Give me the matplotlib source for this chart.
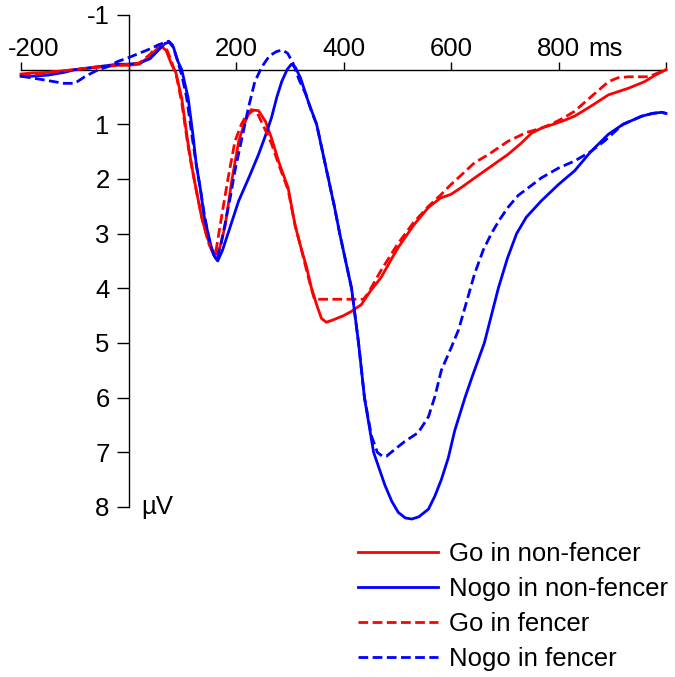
import matplotlib
matplotlib.use("Agg")
import matplotlib.pyplot as plt
import numpy as np

plt.rcParams['font.family'] = ['Liberation Sans', 'DejaVu Sans']

# time (ms) / amplitude (uV), positive down
t_go_nf = [-200, -180, -150, -120, -100, -80, -50, -20, 0, 20, 40, 55, 62, 70, 80, 88, 99, 110, 117, 126,
           136, 146, 155, 162, 170, 180, 192, 205, 215, 223, 232, 242, 255, 266, 280, 297, 310, 322, 331,
           340, 350, 359, 368, 380, 400, 415, 433, 450, 470, 490, 502, 530, 558, 580, 600, 620, 644, 670,
           706, 730, 750, 768, 790, 810, 830, 860, 893, 930, 960, 980, 1000]
v_go_nf = [0.08, 0.06, 0.05, 0.02, 0.0, -0.02, -0.05, -0.08, -0.08, -0.1, -0.25, -0.4, -0.42, -0.35, -0.1,
           0.05, 0.52, 1.3, 1.73, 2.2, 2.7, 3.05, 3.3, 3.38, 3.25, 2.85, 2.04, 1.31, 1.0, 0.82, 0.74, 0.75,
           0.95, 1.25, 1.7, 2.16, 2.85, 3.3, 3.6, 3.98, 4.3, 4.55, 4.62, 4.58, 4.5, 4.42, 4.3, 4.05, 3.8,
           3.45, 3.25, 2.85, 2.52, 2.35, 2.28, 2.15, 1.98, 1.8, 1.55, 1.35, 1.16, 1.07, 1.0, 0.93, 0.85,
           0.67, 0.46, 0.34, 0.22, 0.1, 0.0]

t_nogo_nf = [-200, -180, -150, -120, -100, -60, -20, 0, 20, 40, 55, 68, 76, 84, 92, 99, 111, 120, 126, 134,
             141, 154, 160, 166, 175, 190, 205, 225, 242, 255, 266, 276, 285, 295, 303, 310, 320, 335, 350,
             361, 372, 383, 393, 404, 415, 428, 439, 456, 477, 490, 502, 515, 527, 540, 558, 570,
             582, 595, 607, 626, 640, 662, 675, 688, 705, 722, 740, 768, 800, 830, 860, 893, 920, 955,
             975, 992, 1000]
v_nogo_nf = [0.12, 0.12, 0.1, 0.05, 0.0, -0.05, -0.1, -0.1, -0.12, -0.2, -0.35, -0.48, -0.5, -0.4, -0.15,
             0.0, 0.52, 1.2, 1.73, 2.2, 2.7, 3.25, 3.42, 3.5, 3.3, 2.85, 2.4, 1.95, 1.55, 1.2, 0.88, 0.5,
             0.22, 0.0, -0.1, -0.05, 0.15, 0.6, 1.0, 1.5, 2.0, 2.5, 3.0, 3.5, 4.0, 5.0, 6.0, 7.0, 7.6,
             7.9, 8.1, 8.2, 8.22, 8.18, 8.04, 7.8, 7.5, 7.1, 6.6, 6.0, 5.6, 5.0, 4.5, 4.0, 3.45, 3.0,
             2.7, 2.4, 2.1, 1.85, 1.5, 1.18, 1.0, 0.85, 0.8, 0.78, 0.8]

t_go_f = [-200, -180, -150, -120, -100, -60, -20, 0, 20, 40, 55, 63, 72, 80, 90, 99, 110, 120, 130, 140,
          150, 157, 163, 173, 185, 198, 210, 220, 229, 240, 252, 266, 280, 297, 310, 322, 332, 340, 346,
          360, 400, 437, 445, 470, 500, 530, 558, 580, 600, 620, 644, 670, 706, 740, 768, 790, 810, 830,
          860, 893, 910, 930, 967, 980, 1000]
v_go_f = [0.12, 0.1, 0.05, 0.02, 0.0, -0.05, -0.08, -0.1, -0.12, -0.28, -0.45, -0.47, -0.35, -0.15, 0.15,
          0.6, 1.35, 1.9, 2.4, 2.85, 3.2, 3.35, 3.3, 2.7, 2.0, 1.31, 1.0, 0.82, 0.73, 0.8, 1.05, 1.35, 1.75,
          2.2, 2.85, 3.3, 3.7, 4.0, 4.2, 4.2, 4.2, 4.2, 4.1, 3.67, 3.2, 2.8, 2.5, 2.3, 2.1, 1.92, 1.7,
          1.55, 1.31, 1.15, 1.07, 0.98, 0.88, 0.76, 0.5, 0.22, 0.15, 0.13, 0.13, 0.08, 0.0]

t_nogo_f = [-200, -180, -150, -120, -100, -80, -60, -40, -20, 0, 20, 40, 55, 68, 75, 82, 90, 99, 108, 118,
            126, 134, 141, 150, 158, 165, 172, 180, 190, 198, 210, 223, 235, 248, 262, 275, 286, 296, 306,
            318, 330, 340, 350, 361, 372, 383, 393, 404, 415, 428, 439, 452, 463, 472, 480, 495, 514, 539,
            558, 570, 582, 601, 614, 626, 644, 660, 675, 690, 706, 725, 744, 768, 800, 830, 860, 886, 920,
            955, 975, 992, 1000]
v_nogo_f = [0.12, 0.15, 0.2, 0.25, 0.25, 0.12, 0.02, -0.05, -0.15, -0.22, -0.3, -0.38, -0.45, -0.5, -0.52,
            -0.45, -0.2, 0.1, 0.5, 1.2, 1.73, 2.2, 2.65, 3.1, 3.38, 3.45, 3.2, 2.8, 2.3, 1.85, 1.3, 0.7,
            0.22, -0.05, -0.25, -0.33, -0.36, -0.3, -0.12, 0.2, 0.45, 0.75, 1.0, 1.5, 2.0, 2.5, 3.0,
            3.5, 4.0, 5.0, 6.0, 6.7, 7.0, 7.07, 7.07, 6.95, 6.8, 6.64, 6.35, 5.98, 5.5, 5.07, 4.76, 4.35,
            3.73, 3.3, 3.0, 2.75, 2.52, 2.3, 2.16, 1.98, 1.8, 1.67, 1.5, 1.3, 1.0, 0.85, 0.8, 0.78, 0.8]

labels = ['Go in non-fencer', 'Nogo in non-fencer', 'Go in fencer', 'Nogo in fencer']
x_ticks = [-200, 200, 400, 600, 800]
y_ticks = [-1, 1, 2, 3, 4, 5, 6, 7, 8]

fs = 18.5
red = '#ff0000'
blue = '#0000ff'

fig = plt.figure(figsize=(6.75, 6.77), dpi=100)
W, H = 675, 677
ax = fig.add_axes([21 / W, 1 - 507 / H, (666 - 21) / W, (507 - 15) / H])

lw = 2.0
dash = (0, (3.5, 1.6))
l1, = ax.plot(t_go_nf, v_go_nf, color=red, lw=lw, label=labels[0], clip_on=False)
l2, = ax.plot(t_nogo_nf, v_nogo_nf, color=blue, lw=lw, label=labels[1], clip_on=False)
l3, = ax.plot(t_go_f, v_go_f, color=red, lw=lw, ls=dash, label=labels[2], clip_on=False)
l4, = ax.plot(t_nogo_f, v_nogo_f, color=blue, lw=lw, ls=dash, label=labels[3], clip_on=False)

ax.set_xlim(-200, 1000)
ax.set_ylim(8, -1)

for s in ['top', 'right']:
    ax.spines[s].set_visible(False)
ax.spines['left'].set_position(('data', 0))
ax.spines['bottom'].set_position(('data', 0))
for s in ['left', 'bottom']:
    ax.spines[s].set_linewidth(1.0)
    ax.spines[s].set_zorder(1)

ax.set_xticks([-200, 0, 200, 400, 600, 800, 1000])
ax.set_xticklabels([])
ax.tick_params(axis='x', direction='in', length=6, width=1.0)
ax.set_yticks(y_ticks)
ax.set_yticklabels([str(v) for v in y_ticks], fontsize=fs)
ax.tick_params(axis='y', direction='out', length=8.5, width=1.0, pad=5)

# x tick labels sit above the axis
for t in x_ticks:
    if t == -200:
        ax.annotate(str(t), xy=(t, 0), xytext=(-9.5, 9.5), textcoords='offset points',
                    ha='left', va='baseline', fontsize=fs)
    else:
        ax.annotate(str(t), xy=(t, 0), xytext=(0, 9.5), textcoords='offset points',
                    ha='center', va='baseline', fontsize=fs)
ax.annotate('ms', xy=(855, 0), xytext=(0, 9.5), textcoords='offset points',
            ha='left', va='baseline', fontsize=fs)
ax.annotate('\u00b5V', xy=(0, 8), xytext=(9, 0), textcoords='offset points',
            ha='left', va='center', fontsize=fs)

fig.legend(handles=[l1, l2, l3, l4], loc='upper left',
           bbox_to_anchor=(358 / W, 1 - 542 / H), frameon=False, fontsize=fs,
           handlelength=3.1, handletextpad=0.45, labelspacing=0.43,
           borderpad=0, borderaxespad=0)

fig.savefig('out.png', dpi=100)
